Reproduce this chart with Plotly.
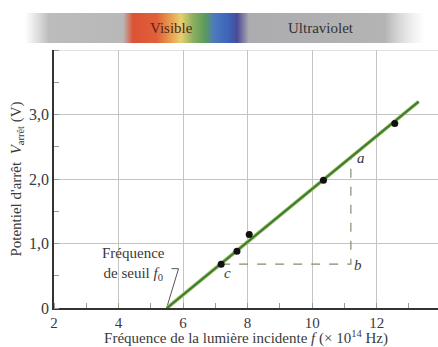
import base64
import plotly.graph_objects as go

# ---- data ----
point_f = [7.18, 7.67, 8.05, 10.35, 12.56]
point_v = [0.68, 0.88, 1.14, 1.98, 2.86]
fit_f = [5.5, 13.3]
fit_v = [0.0, 3.2]
tri_f = [7.18, 11.2, 11.2]
tri_v = [0.68, 0.68, 2.34]
tri_labels = ["a", "b", "c"]
tri_label_f = [11.5, 11.42, 7.38]
tri_label_v = [2.33, 0.66, 0.55]
leader_f = [5.49, 5.86, 5.64]
leader_v = [0.0, 0.61, 0.61]
x_ticks = [2, 4, 6, 8, 10, 12]
x_ticktext = ["2", "4", "6", "8", "10", "12"]
y_ticks = [0, 1, 2, 3]
y_ticktext = ["0", "1,0", "2,0", "3,0"]

SERIF = "Liberation Serif, DejaVu Serif, serif"
TXT = "#3a3a3a"

fig = go.Figure()

# dashed slope triangle
fig.add_trace(go.Scatter(x=tri_f, y=tri_v, mode="lines",
                         line=dict(color="#7f9070", width=1.2, dash="dash"),
                         hoverinfo="skip", showlegend=False))
# leader line for f0
fig.add_trace(go.Scatter(x=leader_f, y=leader_v, mode="lines",
                         line=dict(color="#555555", width=1),
                         hoverinfo="skip", showlegend=False))
# fit line (light edge + dark core)
fig.add_trace(go.Scatter(x=fit_f, y=fit_v, mode="lines",
                         line=dict(color="#a9c86a", width=3.8),
                         hoverinfo="skip", showlegend=False))
fig.add_trace(go.Scatter(x=fit_f, y=fit_v, mode="lines",
                         line=dict(color="#3f7d35", width=2.2),
                         hoverinfo="skip", showlegend=False))
# data points
fig.add_trace(go.Scatter(x=point_f, y=point_v, mode="markers",
                         marker=dict(color="#111111", size=7),
                         showlegend=False))

# labels a, b, c
for lab, xf, yv in zip(tri_labels, tri_label_f, tri_label_v):
    fig.add_annotation(x=xf, y=yv, text="<i>%s</i>" % lab, showarrow=False,
                       font=dict(family=SERIF, size=15, color=TXT))

fig.add_annotation(x=4.45, y=0.68, text="Fréquence<br>de seuil <i>f</i><sub>0</sub>",
                   showarrow=False, align="center",
                   font=dict(family=SERIF, size=15, color=TXT))

# spectrum band (decorative) as SVG gradient image
svg = (
    '<svg xmlns="http://www.w3.org/2000/svg" width="400" height="30" viewBox="0 0 400 30" preserveAspectRatio="none">'
    '<defs><linearGradient id="g" x1="0" y1="0" x2="1" y2="0">'
    '<stop offset="0" stop-color="#c4c4c4" stop-opacity="0"/>'
    '<stop offset="0.06" stop-color="#bcbcbc" stop-opacity="1"/>'
    '<stop offset="0.245" stop-color="#b8b8b8"/>'
    '<stop offset="0.27" stop-color="#dc5234"/>'
    '<stop offset="0.33" stop-color="#e0603a"/>'
    '<stop offset="0.365" stop-color="#e8a050"/>'
    '<stop offset="0.39" stop-color="#e6d070"/>'
    '<stop offset="0.42" stop-color="#8cb060"/>'
    '<stop offset="0.45" stop-color="#5c9a5c"/>'
    '<stop offset="0.475" stop-color="#4a78c0"/>'
    '<stop offset="0.51" stop-color="#3e62b8"/>'
    '<stop offset="0.53" stop-color="#4a4a96"/>'
    '<stop offset="0.56" stop-color="#acacb0"/>'
    '<stop offset="0.9" stop-color="#b4b4b4" stop-opacity="1"/>'
    '<stop offset="1" stop-color="#d8d8d8" stop-opacity="0"/>'
    '</linearGradient></defs>'
    '<rect x="0" y="0" width="400" height="30" fill="url(#g)"/></svg>'
)
src = "data:image/svg+xml;base64," + base64.b64encode(svg.encode()).decode()
PW, PH, L, T = 384.0, 258.0, 54.0, 50.0
def px(xp):
    return (xp - L) / PW
def py(yp):
    return (T + PH - yp) / PH
fig.add_layout_image(dict(source=src, xref="paper", yref="paper",
                          x=px(25), y=py(13), sizex=400 / PW, sizey=30 / PH,
                          xanchor="left", yanchor="top", sizing="stretch",
                          layer="below"))
fig.add_annotation(xref="paper", yref="paper", x=px(171), y=py(28),
                   xanchor="center", yanchor="middle",
                   text="Visible", showarrow=False,
                   font=dict(family=SERIF, size=15, color="#5a2418"))
fig.add_annotation(xref="paper", yref="paper", x=px(321), y=py(28),
                   xanchor="center", yanchor="middle",
                   text="Ultraviolet", showarrow=False,
                   font=dict(family=SERIF, size=15, color="#333333"))

fig.update_layout(
    width=438, height=347,
    margin=dict(l=54, r=0, t=50, b=39, autoexpand=False),
    paper_bgcolor="white", plot_bgcolor="white",
    font=dict(family=SERIF, size=15, color=TXT),
    xaxis=dict(range=[2, 13.9], tickvals=x_ticks, ticktext=x_ticktext,
               showgrid=True, gridcolor="#c4c4c4", gridwidth=1,
               showline=True, linecolor="#333333", linewidth=1.5,
               ticks="", zeroline=False, tickfont=dict(size=15),
               minor=dict(dtick=1, tick0=1, ticks="inside", ticklen=5,
                          tickcolor="#999999", showgrid=False),
               title=dict(text="Fréquence de la lumière incidente <i>f</i> (× 10<sup>14</sup> Hz)",
                          standoff=0, font=dict(size=15))),
    yaxis=dict(range=[0, 4.0], tickvals=y_ticks, ticktext=y_ticktext,
               showgrid=True, gridcolor="#c4c4c4", gridwidth=1,
               showline=True, linecolor="#333333", linewidth=1.5,
               ticks="", zeroline=False, tickfont=dict(size=16),
               minor=dict(dtick=0.5, tick0=0.5, ticks="inside", ticklen=5,
                          tickcolor="#999999", showgrid=False),
               title=dict(text="Potentiel d'arrêt  <i>V</i><sub>arrêt</sub> (V)",
                          standoff=4, font=dict(size=15))),
)
fig.add_shape(type="line", xref="x", yref="y", x0=2, x1=13.9, y0=4, y1=4,
              line=dict(color="#c4c4c4", width=1), layer="below")

fig.write_html("out.html", config={"displayModeBar": False},
               post_script="document.body.style.margin='0px';document.body.style.overflow='hidden';")
